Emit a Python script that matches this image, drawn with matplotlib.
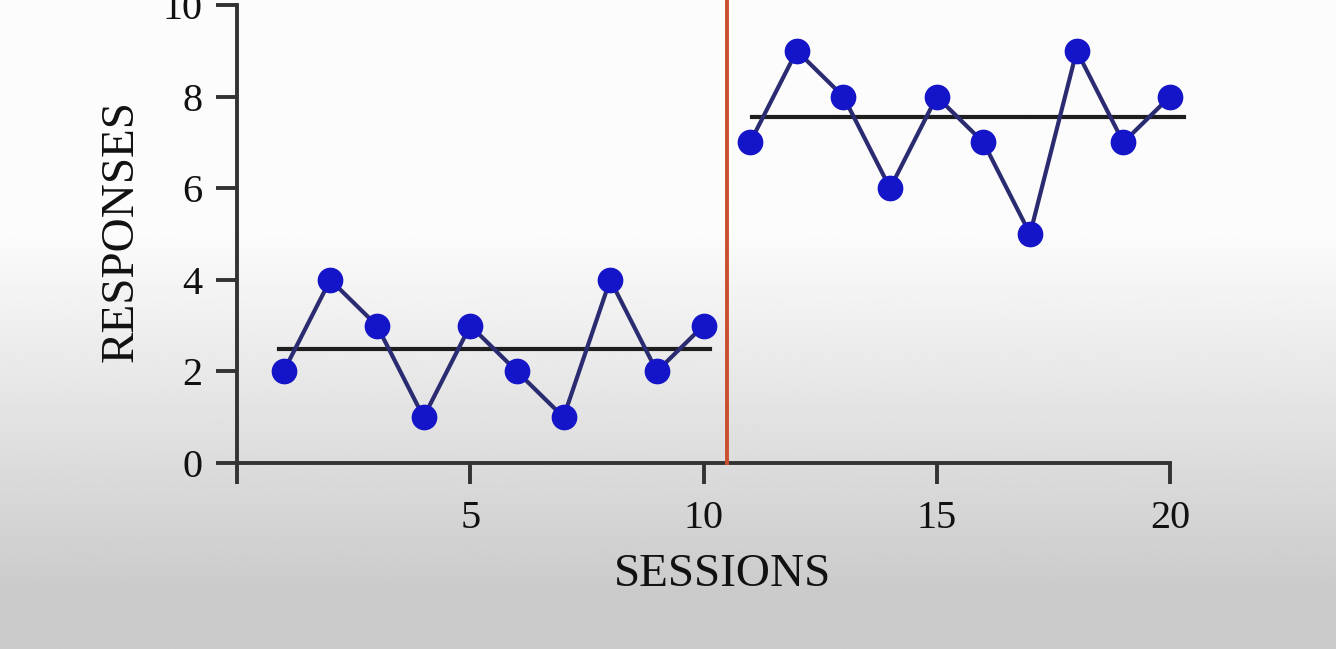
import numpy as np
import matplotlib
matplotlib.use("Agg")
import matplotlib.pyplot as plt

sessions_a = [1, 2, 3, 4, 5, 6, 7, 8, 9, 10]
responses_a = [2, 4, 3, 1, 3, 2, 1, 4, 2, 3]
sessions_b = [11, 12, 13, 14, 15, 16, 17, 18, 19, 20]
responses_b = [7, 9, 8, 6, 8, 7, 5, 9, 7, 8]
phase_means = [2.5, 7.55]
mean_spans = [(0.9, 10.15), (11.05, 20.3)]
phase_change = 10.5
x_ticks = [5, 10, 15, 20]
y_ticks = [0, 2, 4, 6, 8, 10]

plt.rcParams['font.family'] = ['Liberation Serif', 'DejaVu Serif']

W, H = 1336, 649
fig = plt.figure(figsize=(W / 100, H / 100), dpi=100)

# background gradient
bg = fig.add_axes([0, 0, 1, 1], zorder=-10)
rows = np.linspace(0, 1, 400)
vals = np.where(rows < 0.36, 0.985, 0.985 - (rows - 0.36) / 0.55 * 0.19)
vals = np.clip(vals, 0.795, 1.0)
img = np.repeat(vals[:, None], 10, axis=1)
bg.imshow(img, cmap='gray', vmin=0, vmax=1, aspect='auto', extent=[0, 1, 0, 1], origin='upper')
bg.set_axis_off()

ax = fig.add_axes([237 / W, 1 - 463 / H, (1170 - 237) / W, (463 - 5) / H])
ax.patch.set_alpha(0)
ax.set_xlim(0, 20)
ax.set_ylim(0, 10)

line_kw = dict(color='#2b2b72', lw=3.0, marker='o', markersize=17.5,
               markerfacecolor='#1414c8', markeredgecolor='#1414c8', clip_on=False, zorder=3)
ax.plot(sessions_a, responses_a, **line_kw)
ax.plot(sessions_b, responses_b, **line_kw)

for m, (x0, x1) in zip(phase_means, mean_spans):
    ax.plot([x0, x1], [m, m], color='#1e1e1e', lw=3.0, clip_on=False, zorder=2)

ax.plot([phase_change, phase_change], [0, 10.2], color='#c9502e', lw=2.8, clip_on=False, zorder=4)

for s in ['top', 'right']:
    ax.spines[s].set_visible(False)
for s in ['left', 'bottom']:
    ax.spines[s].set_linewidth(2.8)
    ax.spines[s].set_color('#333333')

ax.set_xticks([0] + x_ticks)
ax.set_xticklabels([''] + [str(t) for t in x_ticks])
ax.set_yticks(y_ticks)
ax.set_yticklabels([str(t) for t in y_ticks])
ax.tick_params(axis='both', direction='out', length=15, width=2.8, color='#333333',
               labelsize=29, labelcolor='#111111')
ax.tick_params(axis='x', pad=12)
ax.tick_params(axis='y', pad=10)

ax.set_xlabel('SESSIONS', fontsize=34, color='#111111')
ax.xaxis.set_label_coords(0.52, -0.197)
ax.set_ylabel('RESPONSES', fontsize=34, color='#111111')
ax.yaxis.set_label_coords(-0.101, 0.507)

fig.savefig('out.png', dpi=100)
